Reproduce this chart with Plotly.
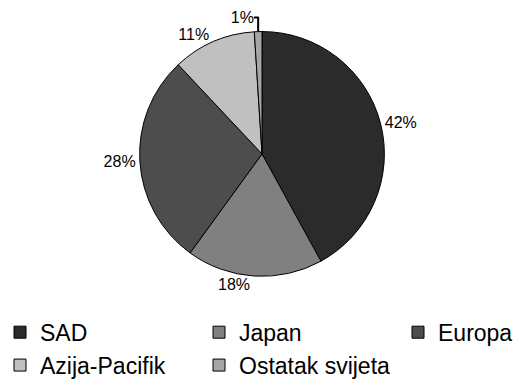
import plotly.graph_objects as go

labels = ["SAD", "Japan", "Europa", "Azija-Pacifik", "Ostatak svijeta"]
values = [42, 18, 28, 11, 1]
colors = ["#2b2b2b", "#808080", "#4d4d4d", "#c0c0c0", "#a6a6a6"]

# figure is wider than the 515px window so the legend can hold 3 columns
W, H = 620, 387
cx, cy, r = 262, 161, 128
FONT = "Liberation Sans"

fig = go.Figure(go.Pie(
    labels=labels, values=values, sort=False, direction="clockwise", rotation=0,
    marker=dict(colors=colors, line=dict(color="black", width=1)),
    textinfo="percent", texttemplate="%{percent:.0%}", textposition="outside",
    outsidetextfont=dict(size=16, color="black", family=FONT),
    domain=dict(x=[(cx - r) / W, (cx + r) / W], y=[1 - (cy + r) / H, 1 - (cy - r) / H]),
    hoverinfo="label+percent",
))

fig.update_layout(
    width=W, height=H, margin=dict(l=0, r=0, t=0, b=0),
    paper_bgcolor="white", plot_bgcolor="white",
    font=dict(family=FONT, color="black"),
    showlegend=True,
    legend=dict(orientation="h", x=0, y=1 - 325 / H, xanchor="left", yanchor="top",
                entrywidth=154, entrywidthmode="pixels",
                font=dict(size=23, color="black", family=FONT), tracegroupgap=0,
                bgcolor="rgba(0,0,0,0)"),
)

fig.write_html(
    "out.html",
    post_script="document.documentElement.style.overflow='hidden';document.body.style.overflow='hidden';",
)
